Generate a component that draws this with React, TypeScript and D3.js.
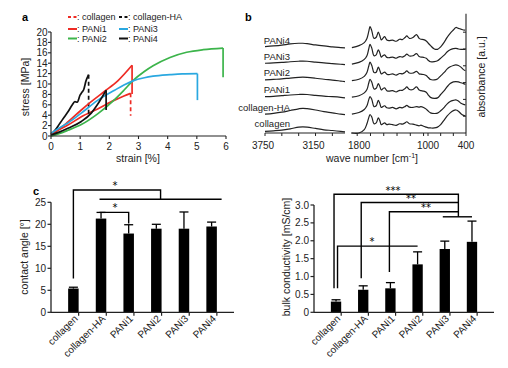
import * as d3 from "d3";

const FONT = "'Liberation Sans', Arial, sans-serif";

// ---- a: tensile curves [strain %, stress MPa]
const collagenCurve: [number, number][] = [[0, 0.3], [0.3, 1.3], [0.58, 2.1], [1.04, 3.7], [1.6, 5.2], [2.18, 6.9], [2.5, 7.7], [2.73, 8.2]];
const collagenHACurve: [number, number][] = [[0, 0.3], [0.15, 1.2], [0.3, 2.4], [0.45, 3.6], [0.6, 4.8], [0.72, 5.9], [0.82, 6.6], [0.9, 6.5], [1.0, 7.9], [1.06, 8.4], [1.12, 8.9], [1.2, 10.6], [1.29, 11.8]];
const pani1Curve: [number, number][] = [[0, 0.3], [0.3, 1.4], [0.58, 2.7], [1.04, 5.0], [1.38, 6.6], [1.84, 8.6], [2.29, 10.6], [2.78, 13.6]];
const pani2Curve: [number, number][] = [[0, 0], [0.3, 0.5], [0.58, 1.1], [1.04, 2.2], [1.61, 4.3], [2.18, 7.0], [2.5, 8.8], [2.82, 10.7], [3.2, 12.4], [3.5, 13.5], [4.08, 15.1], [4.65, 16.1], [5.22, 16.6], [5.9, 16.9]];
const pani3Curve: [number, number][] = [[0, 0.5], [0.3, 1.6], [0.58, 2.5], [1.04, 4.4], [1.61, 6.9], [2.18, 8.8], [2.5, 9.8], [2.81, 10.6], [3.2, 11.2], [3.5, 11.5], [4.08, 11.8], [4.5, 11.95], [5.02, 12.0]];
const pani4Curve: [number, number][] = [[0, 0.2], [0.3, 0.8], [0.58, 1.5], [1.04, 2.8], [1.38, 4.4], [1.61, 6.2], [1.89, 8.8]];
const fractureStress = [3.9, 4.0, 8.1, 11.3, 6.9, 5.0];
const strainTicks = [0, 1, 2, 3, 4, 5, 6];
const stressTicks = [0, 2, 4, 6, 8, 10, 12, 14, 16, 18, 20];

// ---- b: FTIR spectra
const spectraNames = ["collagen", "collagen-HA", "PANi1", "PANi2", "PANi3", "PANi4"];
const spectraOffset = [0.05, 1.12, 2.14, 3.12, 4.1, 5.08];
const wnLeft = [3750, 3650, 3550, 3450, 3350, 3300, 3250, 3150, 3050, 2950, 2850, 2800];
const wnRight = [1860, 1780, 1720, 1690, 1670, 1655, 1635, 1610, 1585, 1562, 1545, 1528, 1510, 1490, 1465, 1440, 1400, 1360, 1320, 1290, 1260, 1240, 1210, 1170, 1130, 1100, 1080, 1050, 1020, 995, 960, 900, 850, 800, 740, 700, 650, 600, 560, 520, 480, 440, 410];
const absLeft = [
  [0.05, 0.08, 0.12, 0.2, 0.3, 0.32, 0.3, 0.22, 0.14, 0.1, 0.05, 0.02],
  [0.0, 0.05, 0.12, 0.22, 0.32, 0.35, 0.33, 0.25, 0.15, 0.08, 0.0, -0.03],
  [0.02, 0.04, 0.08, 0.12, 0.15, 0.16, 0.15, 0.1, 0.05, 0.02, -0.02, -0.05],
  [0.04, 0.07, 0.1, 0.15, 0.19, 0.2, 0.19, 0.14, 0.08, 0.03, -0.03, -0.06],
  [0.05, 0.07, 0.1, 0.14, 0.17, 0.18, 0.17, 0.12, 0.07, 0.03, -0.01, -0.03],
  [0.06, 0.1, 0.15, 0.22, 0.26, 0.26, 0.24, 0.16, 0.1, 0.05, 0.0, -0.01],
];
const absRight = [
  [-0.05, -0.05, 0.15, 0.5, 0.85, 1.05, 0.9, 0.5, 0.55, 0.85, 0.7, 0.45, 0.5, 0.55, 0.45, 0.48, 0.45, 0.4, 0.5, 0.48, 0.55, 0.62, 0.5, 0.48, 0.42, 0.38, 0.42, 0.35, 0.3, 0.26, 0.25, 0.25, 0.3, 0.45, 0.75, 0.95, 1.15, 1.28, 1.32, 1.25, 1.1, 1.0, 0.96],
  [0.0, 0.1, 0.28, 0.5, 0.85, 1.05, 0.88, 0.45, 0.5, 0.82, 0.65, 0.4, 0.45, 0.5, 0.38, 0.36, 0.4, 0.32, 0.4, 0.38, 0.45, 0.52, 0.42, 0.4, 0.45, 0.42, 0.45, 0.4, 0.3, 0.18, 0.08, 0.04, 0.06, 0.2, 0.42, 0.6, 0.75, 0.82, 0.85, 0.78, 0.65, 0.58, 0.55],
  [0.0, 0.08, 0.25, 0.45, 0.82, 1.05, 0.88, 0.48, 0.52, 0.8, 0.64, 0.42, 0.5, 0.55, 0.38, 0.35, 0.38, 0.3, 0.4, 0.4, 0.5, 0.6, 0.45, 0.45, 0.6, 0.42, 0.38, 0.35, 0.28, 0.12, -0.02, -0.08, -0.05, 0.15, 0.4, 0.6, 0.8, 0.9, 0.92, 0.9, 0.85, 0.8, 0.75],
  [0.0, 0.08, 0.25, 0.48, 0.85, 1.1, 0.9, 0.48, 0.5, 0.8, 0.62, 0.4, 0.45, 0.5, 0.38, 0.35, 0.4, 0.33, 0.42, 0.4, 0.48, 0.58, 0.45, 0.45, 0.55, 0.4, 0.38, 0.36, 0.3, 0.18, 0.06, 0.04, 0.1, 0.28, 0.5, 0.68, 0.82, 0.9, 0.93, 0.9, 0.8, 0.65, 0.58],
  [0.0, 0.1, 0.28, 0.5, 0.9, 1.18, 0.95, 0.5, 0.55, 0.85, 0.68, 0.42, 0.5, 0.55, 0.4, 0.38, 0.42, 0.35, 0.45, 0.42, 0.5, 0.6, 0.48, 0.5, 0.62, 0.45, 0.42, 0.4, 0.35, 0.22, 0.14, 0.15, 0.2, 0.35, 0.55, 0.72, 0.85, 0.92, 0.94, 0.9, 0.88, 0.88, 0.88],
  [0.0, 0.12, 0.3, 0.55, 0.95, 1.25, 1.0, 0.55, 0.62, 0.92, 0.72, 0.46, 0.55, 0.65, 0.45, 0.42, 0.45, 0.38, 0.5, 0.48, 0.6, 0.7, 0.55, 0.6, 0.78, 0.55, 0.5, 0.48, 0.4, 0.26, 0.12, -0.08, -0.1, 0.05, 0.35, 0.6, 0.85, 1.05, 1.2, 1.15, 1.1, 1.05, 1.05],
];
const wnLeftLabels = [3750, 3150];
const wnRightLabels = [1800, 1000, 400];

// ---- c, d: bars
const groups = ["collagen", "collagen-HA", "PANi1", "PANi2", "PANi3", "PANi4"];
const contactAngle = [5.4, 21.3, 17.9, 19.0, 19.0, 19.5];
const contactAngleErr = [0.3, 1.4, 2.0, 1.0, 3.8, 1.0];
const conductivity = [0.3, 0.63, 0.67, 1.34, 1.77, 1.97];
const conductivityErr = [0.05, 0.11, 0.16, 0.35, 0.22, 0.58];
const angleTicks = [0, 5, 10, 15, 20, 25];
const condTicks = [0, 0.5, 1.0, 1.5, 2.0, 2.5, 3.0];

const RED = "#ee2b24";
const GREEN = "#3cb44b";
const BLUE = "#2aa8e0";
const BLACK = "#111";

function PanelA() {
  const x = d3.scaleLinear().domain([0, 6]).range([51, 226]);
  const y = d3.scaleLinear().domain([0, 20]).range([136, 32]);
  const line = d3.line<[number, number]>().x((d) => x(d[0])).y((d) => y(d[1])).curve(d3.curveMonotoneX);
  const series = [
    { pts: collagenCurve, color: RED, dashDrop: true },
    { pts: collagenHACurve, color: BLACK, dashDrop: true },
    { pts: pani1Curve, color: RED, dashDrop: false },
    { pts: pani2Curve, color: GREEN, dashDrop: false },
    { pts: pani3Curve, color: BLUE, dashDrop: false },
    { pts: pani4Curve, color: BLACK, dashDrop: false },
  ];
  const legend = [
    { label: ": collagen", color: RED, dash: true, lx: 68, ly: 17 },
    { label: ": collagen-HA", color: BLACK, dash: true, lx: 119, ly: 17 },
    { label: ": PANi1", color: RED, dash: false, lx: 68, ly: 29 },
    { label: ": PANi3", color: BLUE, dash: false, lx: 119, ly: 29 },
    { label: ": PANi2", color: GREEN, dash: false, lx: 68, ly: 38.5 },
    { label: ": PANi4", color: BLACK, dash: false, lx: 119, ly: 38.5 },
  ];
  return (
    <g>
      <text x={22} y={21} fontSize={11} fontWeight="bold">a</text>
      {legend.map((l) => (
        <g key={l.label}>
          <line x1={l.lx} x2={l.lx + 9} y1={l.ly} y2={l.ly} stroke={l.color} strokeWidth={2}
            strokeDasharray={l.dash ? "3,2.5" : undefined} />
          <text x={l.lx + 9} y={l.ly + 3.2} fontSize={9} fill="#222">{l.label}</text>
        </g>
      ))}
      {series.map((s, i) => {
        const last = s.pts[s.pts.length - 1];
        return (
          <g key={i}>
            <path d={line(s.pts) || ""} fill="none" stroke={s.color} strokeWidth={1.7} />
            <line x1={x(last[0])} x2={x(last[0])} y1={y(last[1])} y2={y(fractureStress[i])}
              stroke={s.color} strokeWidth={1.7} strokeDasharray={s.dashDrop ? "4,3" : undefined} />
          </g>
        );
      })}
      <line x1={x(0)} x2={x(6)} y1={y(0)} y2={y(0)} stroke="#222" strokeWidth={1.2} />
      <line x1={x(0)} x2={x(0)} y1={y(0)} y2={y(20)} stroke="#222" strokeWidth={1.2} />
      {strainTicks.map((t) => (
        <g key={t}>
          <line x1={x(t)} x2={x(t)} y1={y(0)} y2={y(0) + 3} stroke="#222" strokeWidth={1.1} />
          <text x={x(t)} y={150} fontSize={10} textAnchor="middle" fill="#222">{t}</text>
        </g>
      ))}
      {stressTicks.map((t) => (
        <g key={t}>
          <line x1={x(0) - 3} x2={x(0)} y1={y(t)} y2={y(t)} stroke="#222" strokeWidth={1.1} />
          <text x={47.5} y={y(t) + 3.5} fontSize={10} textAnchor="end" fill="#222">{t}</text>
        </g>
      ))}
      <text x={138} y={162} fontSize={10.5} textAnchor="middle" fill="#222">strain [%]</text>
      <text transform="translate(29,87) rotate(-90)" fontSize={10.5} textAnchor="middle" fill="#222">stress [MPa]</text>
    </g>
  );
}

function PanelB() {
  const xL = d3.scaleLinear().domain([3750, 2800]).range([265, 345]);
  const xR = d3.scaleLinear().domain([1870, 1000, 400]).range([351, 428, 466]);
  const y = d3.scaleLinear().domain([0, 7.1]).range([133, 13.7]);
  const lineL = d3.line<number>().x((_, i) => xL(wnLeft[i])).y((d) => y(d)).curve(d3.curveCatmullRom);
  const lineR = d3.line<number>().x((_, i) => xR(wnRight[i])).y((d) => y(d)).curve(d3.curveCatmullRom);
  const labelY = [124, 107.7, 89.3, 72.7, 56.7, 40.7];
  const ticksL = [3750, 3550, 3350, 3150, 2950];
  const ticksR = [1800, 1650, 1500, 1350, 1200, 1050, 1000, 800, 600, 400];
  return (
    <g>
      <text x={245} y={21} fontSize={11} fontWeight="bold">b</text>
      {spectraNames.map((name, i) => (
        <g key={name}>
          <path d={lineL(absLeft[i].map((v) => v + spectraOffset[i])) || ""} fill="none" stroke="#222" strokeWidth={1.2} />
          <path d={lineR(absRight[i].map((v) => v + spectraOffset[i])) || ""} fill="none" stroke="#222" strokeWidth={1.2} />
          <text x={290} y={labelY[i] + 3.3} fontSize={9.5} textAnchor="end" fill="#222">{name}</text>
        </g>
      ))}
      <line x1={265} x2={345} y1={133} y2={133} stroke="#222" strokeWidth={1.1} />
      <line x1={351} x2={466} y1={133} y2={133} stroke="#222" strokeWidth={1.1} />
      <line x1={466} x2={466} y1={y(7.1)} y2={133} stroke="#222" strokeWidth={1.1} />
      {[1, 2, 3, 4, 5, 6].map((t) => (
        <line key={t} x1={463} x2={466} y1={y(t)} y2={y(t)} stroke="#222" strokeWidth={1} />
      ))}
      {ticksL.map((t) => (
        <line key={t} x1={xL(t)} x2={xL(t)} y1={133} y2={136} stroke="#222" strokeWidth={1} />
      ))}
      {ticksR.map((t) => (
        <line key={t} x1={xR(t)} x2={xR(t)} y1={133} y2={136} stroke="#222" strokeWidth={1} />
      ))}
      {wnLeftLabels.map((t) => (
        <text key={t} x={xL(t) - 2} y={149} fontSize={10} textAnchor="middle" fill="#222">{t}</text>
      ))}
      {wnRightLabels.map((t) => (
        <text key={t} x={xR(t) + (t === 1800 ? 2 : 0)} y={149} fontSize={10} textAnchor="middle" fill="#222">{t}</text>
      ))}
      <text x={372} y={162} fontSize={10.5} textAnchor="middle" fill="#222">
        wave number [cm<tspan dy={-4} fontSize={7}>-1</tspan><tspan dy={4}>]</tspan>
      </text>
      <text transform="translate(485,77) rotate(-90)" fontSize={10.5} textAnchor="middle" fill="#222">absorbance [a.u.]</text>
    </g>
  );
}

function BarPanel(props: {
  values: number[]; errs: number[]; ticks: number[]; yMax: number;
  x0: number; x1: number; yTop: number; fmt: (v: number) => string;
  title: string; titleX: number; brackets: (x: (g: string) => number, y: (v: number) => number) => { paths: string[]; stars: { t: string; x: number; y: number }[] };
}) {
  const { values, errs, ticks, yMax, x0, x1, yTop, fmt, title, titleX } = props;
  const x = d3.scaleBand().domain(groups).range([x0, x1]).padding(0.62);
  const y = d3.scaleLinear().domain([0, yMax]).range([312.3, yTop]);
  const xc = (g: string) => (x(g) || 0) + x.bandwidth() / 2;
  const step = x.step();
  const br = props.brackets(xc, y);
  return (
    <g>
      {groups.map((g, i) => (
        <g key={g}>
          <rect x={x(g)} y={y(values[i])} width={x.bandwidth()} height={y(0) - y(values[i])} fill="#000" />
          <line x1={xc(g)} x2={xc(g)} y1={y(values[i])} y2={y(values[i] + errs[i])} stroke="#000" strokeWidth={1.3} />
          <line x1={xc(g) - 4.5} x2={xc(g) + 4.5} y1={y(values[i] + errs[i])} y2={y(values[i] + errs[i])} stroke="#000" strokeWidth={1.3} />
          <text transform={`translate(${xc(g) + 5},${y(0) + 7}) rotate(-45)`} fontSize={10} textAnchor="end" fill="#222">{g}</text>
        </g>
      ))}
      <line x1={x0} x2={x1} y1={y(0)} y2={y(0)} stroke="#222" strokeWidth={1.3} />
      {groups.map((g, i) => (
        <line key={g} x1={x0 + step * (i + 1)} x2={x0 + step * (i + 1)} y1={y(0)} y2={y(0) + 3.5} stroke="#222" strokeWidth={1.2} />
      ))}
      <line x1={x0} x2={x0} y1={y(0)} y2={y(yMax)} stroke="#222" strokeWidth={1.3} />
      {ticks.map((t) => (
        <g key={t}>
          <line x1={x0 - 3.5} x2={x0} y1={y(t)} y2={y(t)} stroke="#222" strokeWidth={1.2} />
          <text x={x0 - 5} y={y(t) + 3.5} fontSize={10} textAnchor="end" fill="#222">{fmt(t)}</text>
        </g>
      ))}
      <text transform={`translate(${titleX},257) rotate(-90)`} fontSize={10.5} textAnchor="middle" fill="#222">{title}</text>
      {br.paths.map((d, i) => (
        <path key={i} d={d} fill="none" stroke="#000" strokeWidth={1.4} />
      ))}
      {br.stars.map((s, i) => (
        <text key={i} x={s.x} y={s.y} fontSize={10} textAnchor="middle" fill="#000" stroke="none"
          fontFamily="'DejaVu Sans', sans-serif">{s.t}</text>
      ))}
    </g>
  );
}

export default function App() {
  return (
    <svg width={508} height={368} style={{ position: "absolute", left: 0, top: 0 }} fontFamily={FONT}>
      <rect width={508} height={368} fill="#fff" />
      <PanelA />
      <PanelB />
      <text x={33} y={195} fontSize={11} fontWeight="bold">c</text>
      <BarPanel values={contactAngle} errs={contactAngleErr} ticks={angleTicks} yMax={25}
        x0={51} x1={234} yTop={202.3} fmt={(v) => String(v)} title="contact angle [°]" titleX={28}
        brackets={(xc, y) => {
          const gl = xc("collagen-HA") - 1.5;
          const gr = xc("PANi4") + 10;
          const mid = (gl + gr) / 2;
          return {
            paths: [
              `M${xc("collagen")},${y(7.7)}V${y(27.8)}H${mid}V${y(25.7)}`,
              `M${gl},${y(25.7)}H${gr}`,
              `M${gl},${y(22.7)}H${xc("PANi1")}V${y(20.2)}`,
            ],
            stars: [
              { t: "*", x: 115, y: y(27.8) - 0.5 },
              { t: "*", x: 115, y: y(22.7) - 1 },
            ],
          };
        }} />
      <BarPanel values={conductivity} errs={conductivityErr} ticks={condTicks} yMax={3}
        x0={314} x1={494} yTop={205} fmt={(v) => (v === 0 ? "0" : v.toFixed(1))} title="bulk conductivity [mS/cm]" titleX={290}
        brackets={(xc, y) => {
          const join = (xc("PANi3") + xc("PANi4")) / 2;
          return {
            paths: [
              `M${xc("collagen") - 2},${y(0.67)}V${y(3.3)}H${join}V${y(2.67)}`,
              `M${xc("collagen-HA") - 2},${y(0.95)}V${y(3.07)}H${join}`,
              `M${xc("PANi1") - 1},${y(1.13)}V${y(2.81)}H${join}`,
              `M${xc("PANi3") - 2},${y(2.67)}H${xc("PANi4")}`,
              `M${xc("collagen") + 1.5},${y(0.67)}V${y(1.85)}H${xc("PANi2")}`,
            ],
            stars: [
              { t: "***", x: 393, y: y(3.3) - 0.5 },
              { t: "**", x: 411, y: y(3.07) - 0.5 },
              { t: "**", x: 426, y: y(2.81) - 0.5 },
              { t: "*", x: 372, y: y(1.85) - 1 },
            ],
          };
        }} />
    </svg>
  );
}
